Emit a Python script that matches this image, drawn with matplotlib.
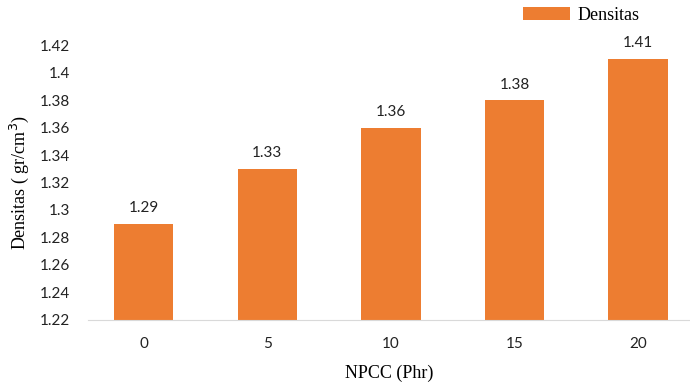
import numpy as np
import matplotlib.pyplot as plt

# data
npcc = ["0", "5", "10", "15", "20"]
densitas = [1.29, 1.33, 1.36, 1.38, 1.41]
yticks = [1.22, 1.24, 1.26, 1.28, 1.3, 1.32, 1.34, 1.36, 1.38, 1.4, 1.42]

fig = plt.figure(figsize=(6.9, 3.85), dpi=100)
ax = fig.add_axes([0.1275, 0.169, 0.8725, 0.714])

x = np.arange(len(npcc))
bars = ax.bar(x, densitas, width=0.48, color="#ED7D31", label="Densitas", zorder=2)

for xi, v in zip(x, densitas):
    ax.annotate(f"{v:g}", (xi, v), xytext=(0, 6), textcoords="offset points",
                ha="center", va="bottom", fontsize=11, family="Lato", color="#222222")

ax.set_ylim(1.22, 1.42)
ax.set_xlim(-0.45, 4.42)
ax.set_yticks(yticks)
ax.set_yticklabels([f"{t:g}" for t in yticks], family="Lato", fontsize=11, color="#222222")
ax.set_xticks(x)
ax.set_xticklabels(npcc, family="Lato", fontsize=11, color="#222222")
ax.tick_params(length=0, pad=12)
ax.tick_params(axis="y", pad=13)

for s in ["top", "right", "left"]:
    ax.spines[s].set_visible(False)
ax.spines["bottom"].set_color("#D9D9D9")

ax.set_xlabel("NPCC (Phr)", family="Liberation Serif", fontsize=13, labelpad=10)
ax.set_ylabel("Densitas ( gr/cm$^3$)", family="Liberation Serif", fontsize=13)
ax.yaxis.set_label_coords(-0.094, 0.5)

fig.legend(handles=[bars], labels=["Densitas"], loc="upper left",
           bbox_to_anchor=(0.735, 1.025), frameon=False,
           prop={"family": "Liberation Serif", "size": 13},
           handlelength=2.6, handleheight=0.8, handletextpad=0.4)

fig.savefig("out.png", dpi=100)
